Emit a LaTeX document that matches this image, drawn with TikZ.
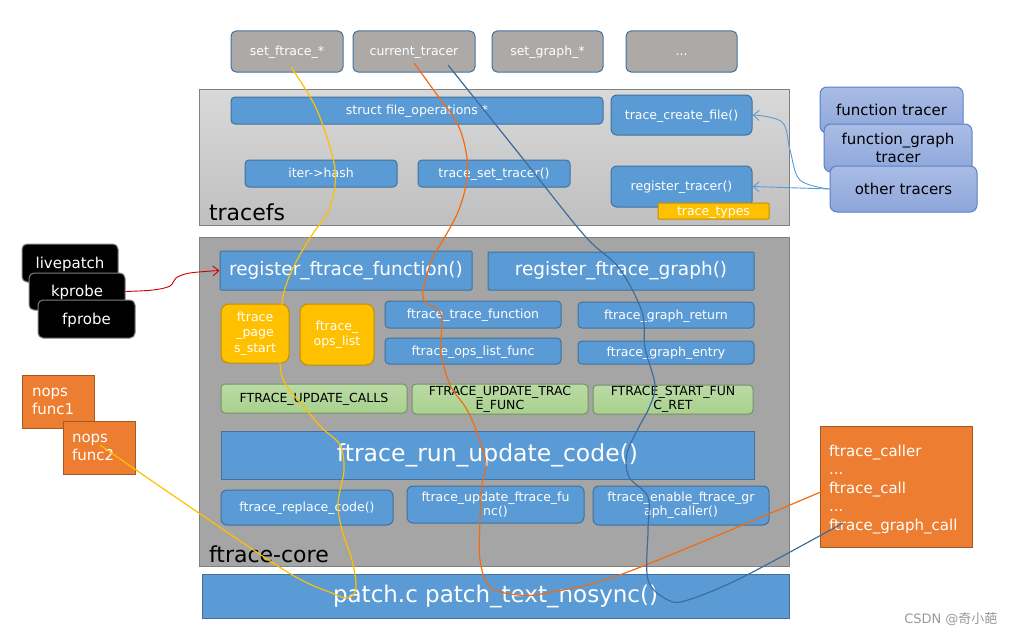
\documentclass[tikz,border=0pt]{standalone}
\usepackage{fontspec}
\setmainfont{DejaVu Sans}
\newfontfamily\cjkfont{Noto Sans CJK SC}
\usetikzlibrary{arrows.meta}
\definecolor{boxblue}{HTML}{5B9BD5}
\definecolor{edgeblue}{HTML}{41719C}
\definecolor{topgray}{HTML}{ADA9A7}
\definecolor{coregray}{HTML}{A5A5A5}
\definecolor{ftyellow}{HTML}{FFC000}
\definecolor{ftorange}{HTML}{ED7D31}
\definecolor{ftgreen}{HTML}{A9D18E}
\definecolor{trtop}{HTML}{AABCE5}
\definecolor{trbottom}{HTML}{8DA6DA}
\definecolor{tredge}{HTML}{5A7FCB}
\definecolor{linkorange}{HTML}{F26B10}
\definecolor{linkblue}{HTML}{3E6D9C}
\newcommand\fsmall{\fontsize{12.5}{15.5}\selectfont}
\newcommand\fmid{\fontsize{15}{18.5}\selectfont}
\newcommand\fhead{\fontsize{22}{26}\selectfont}
\tikzset{
  base/.style={draw,inner sep=0pt,align=center,line width=1pt},
  one/.style={text height=11.6pt,text depth=3pt},
  onemid/.style={text height=14pt,text depth=3.6pt},
  topbox/.style={base,one,fill=topgray,draw=edgeblue,rounded corners=5pt,text=white,font=\fsmall},
  fnbase/.style={base,fill=boxblue,draw=edgeblue,rounded corners=4pt,text=white,font=\fsmall},
  fnbox/.style={fnbase,one},
  bigbox/.style={base,fill=boxblue,draw=edgeblue,rounded corners=1pt,text=white},
  ybox/.style={base,fill=ftyellow,draw=ftyellow!75!black,rounded corners=8pt,text=white,font=\fsmall},
  gbox/.style={base,top color=ftgreen!80!white,bottom color=ftgreen,draw=ftgreen!70!black,rounded corners=4pt,font=\fsmall},
  trbox/.style={base,top color=trtop,bottom color=trbottom,draw=tredge,rounded corners=7pt,font=\fmid},
  kbox/.style={base,onemid,fill=black,draw=gray,rounded corners=5pt,text=white,font=\fmid},
  obox/.style={base,fill=ftorange,draw=ftorange!70!black,text=white,font=\fmid,align=left},
  obtext/.style={inner sep=0pt,text=white,font=\fmid,align=left},
  panel/.style={draw=gray,line width=0.8pt,inner sep=0pt},
  link/.style={line width=1.2pt},
  >={Straight Barb[length=6pt,width=10pt]}
}
\begin{document}
\begin{tikzpicture}[x=1pt,y=-1pt]
\useasboundingbox (0,0) rectangle (1016,634);
\node[panel,top color=gray!30,bottom color=gray!50,minimum width=590pt,minimum height=136pt] (tfs) at (494,157) {};
\node[anchor=base west,font=\fhead] (tfslabel) at (205.5,220) {tracefs};
\node[panel,fill=coregray,minimum width=590pt,minimum height=329pt] (core) at (494,401.5) {};
\node[anchor=base west,font=\fhead] (corelabel) at (205.5,562) {ftrace-core};

\node[topbox,minimum width=112pt,minimum height=41pt] (setf) at (287,51.5) {set\_ftrace\_*};
\node[topbox,minimum width=122pt,minimum height=41pt] (curt) at (414,51.5) {current\_tracer};
\node[topbox,minimum width=111pt,minimum height=41pt] (setg) at (547.5,51.5) {set\_graph\_*};
\node[topbox,minimum width=111pt,minimum height=41pt] (more) at (681.5,51.5) {...};

\node[fnbox,minimum width=372pt,minimum height=27pt] (fops) at (417,110.5) {struct file\_operations *};
\node[fnbox,rounded corners=6pt,minimum width=141pt,minimum height=40pt] (tcf) at (681.5,115) {trace\_create\_file()};
\node[fnbox,minimum width=152pt,minimum height=27pt] (iter) at (321,173.5) {iter->hash};
\node[fnbox,minimum width=152pt,minimum height=27pt] (tst) at (494,173.5) {trace\_set\_tracer()};
\node[fnbox,rounded corners=6pt,minimum width=141pt,minimum height=41pt] (reg) at (681.5,186.5) {register\_tracer()};
\node[ybox,one,rounded corners=1pt,minimum width=111pt,minimum height=16pt] (ttypes) at (713.5,211) {trace\_types};

\node[trbox,onemid,minimum width=143pt,minimum height=46pt] (ft) at (891.5,110) {function tracer};
\node[trbox,minimum width=148pt,minimum height=48pt,font=\fontsize{15}{18}\selectfont] (fg) at (898,148) {function\_graph\\tracer};
\node[trbox,onemid,minimum width=147pt,minimum height=46pt] (ot) at (903.5,189) {other tracers};

\node[bigbox,minimum width=252pt,minimum height=39pt,font=\fontsize{18.5}{22}\selectfont] (rff) at (346,270.5) {register\_ftrace\_function()};
\node[bigbox,minimum width=266pt,minimum height=38pt,font=\fontsize{18.5}{22}\selectfont] (rfg) at (621,271) {register\_ftrace\_graph()};
\node[ybox,minimum width=68pt,minimum height=59pt] (fps) at (255,333.5) {ftrace\\\_page\\s\_start};
\node[ybox,minimum width=74pt,minimum height=61pt] (fol) at (337,334.5) {ftrace\_\\ops\_list};
\node[fnbox,minimum width=176pt,minimum height=27pt] (ftf) at (473,314.5) {ftrace\_trace\_function};
\node[fnbox,minimum width=176pt,minimum height=26pt] (olf) at (473,351) {ftrace\_ops\_list\_func};
\node[fnbox,minimum width=176pt,minimum height=26pt] (fgr) at (666,315) {ftrace\_graph\_return};
\node[fnbox,minimum width=176pt,minimum height=23pt] (fge) at (666,352.5) {ftrace\_graph\_entry};
\node[gbox,one,minimum width=186pt,minimum height=29pt] (uc) at (314,398.5) {FTRACE\_UPDATE\_CALLS};
\node[gbox,minimum width=176pt,minimum height=30pt,font=\fontsize{12.5}{14}\selectfont] (utf) at (500,399) {FTRACE\_UPDATE\_TRAC\\E\_FUNC};
\node[gbox,minimum width=160pt,minimum height=29pt,font=\fontsize{12.5}{14}\selectfont] (sfr) at (673,399.5) {FTRACE\_START\_FUN\\C\_RET};
\node[bigbox,rounded corners=0pt,minimum width=533pt,minimum height=48pt,font=\fontsize{23.5}{28}\selectfont] (run) at (487.5,455) {ftrace\_run\_update\_code()};
\node[fnbox,rounded corners=6pt,minimum width=172pt,minimum height=35pt] (rc) at (307,507.5) {ftrace\_replace\_code()};
\node[fnbase,rounded corners=6pt,minimum width=177pt,minimum height=37pt,font=\fontsize{12.5}{14}\selectfont] (uff) at (495.5,504.5) {ftrace\_update\_ftrace\_fu\\nc()};
\node[fnbase,rounded corners=6pt,minimum width=176pt,minimum height=39pt,font=\fontsize{12.5}{14}\selectfont] (efg) at (681,505.5) {ftrace\_enable\_ftrace\_gr\\aph\_caller()};
\node[bigbox,rounded corners=0pt,minimum width=587pt,minimum height=44pt,font=\fontsize{23}{27}\selectfont] (patch) at (495.5,596) {patch.c patch\_text\_nosync()};

\node[kbox,minimum width=96pt,minimum height=38pt] (lp) at (70,263) {livepatch};
\node[kbox,minimum width=96pt,minimum height=37pt] (kp) at (77,291.5) {kprobe};
\node[kbox,minimum width=97pt,minimum height=38pt] (fp) at (86.5,319) {fprobe};

\node[obox,minimum width=72pt,minimum height=53pt,text width=52pt,inner xsep=10pt] (n1) at (58,401.5) {nops\\func1};
\node[obox,minimum width=72pt,minimum height=53pt,text width=54pt,inner xsep=9pt] (n2) at (99,447.5) {nops\\func2};
\node[obox,minimum width=152pt,minimum height=121pt,label={[obtext,text width=134pt,yshift=-3pt]center:ftrace\_caller\\...\\ftrace\_call\\...\\ftrace\_graph\_call}] (caller) at (896,486.5) {};

\node[anchor=base east,text=gray!80,font=\fontsize{13}{15}\selectfont] (mark) at (1001,623) {CSDN @{\cjkfont 奇小葩}};

\draw[red!80!black,line width=0.9pt,->] plot[smooth,tension=0.6] coordinates {(kp.east) (153,290) (170,286) (176,278) (190,273) (rff.west)};
\draw[boxblue,line width=0.9pt,->] (ot.west) -- (reg.east);
\draw[boxblue,line width=0.9pt,->] plot[smooth,tension=0.6] coordinates {(ot.west) (800,180) (790,150) (782,122) (tcf.east)};

\draw[ftyellow,link] plot[smooth,tension=0.55] coordinates {(291,67) (316,108) (333,158) (335,185) (328,212) (312,235) (293,268) (282,302) (280,362) (286,385) (305,408) (322,428) (340,445) (344,470) (338,503) (342,530) (352,560) (356,588) (348,598) (332,593) (289,573) (190,507) (100,445)};
\draw[linkorange,link] plot[smooth,tension=0.55] coordinates {(414,63) (435,92) (458,125) (467,158) (466,185) (458,212) (446,235) (431,262) (423,298) (441,314) (441,352) (450,385) (466,408) (476,430) (486,463) (482,485) (480,520) (480,560) (490,587) (518,595) (546,593) (625,573) (823,491)};
\draw[linkblue,link] plot[smooth,tension=0.55] coordinates {(448,65) (516,150) (584,235) (619,268) (642,312) (645,348) (655,385) (649,408) (640,425) (627,453) (629,477) (648,497) (648,530) (648,580) (668,600) (688,600) (743,577) (843,523)};
\end{tikzpicture}
\end{document}
